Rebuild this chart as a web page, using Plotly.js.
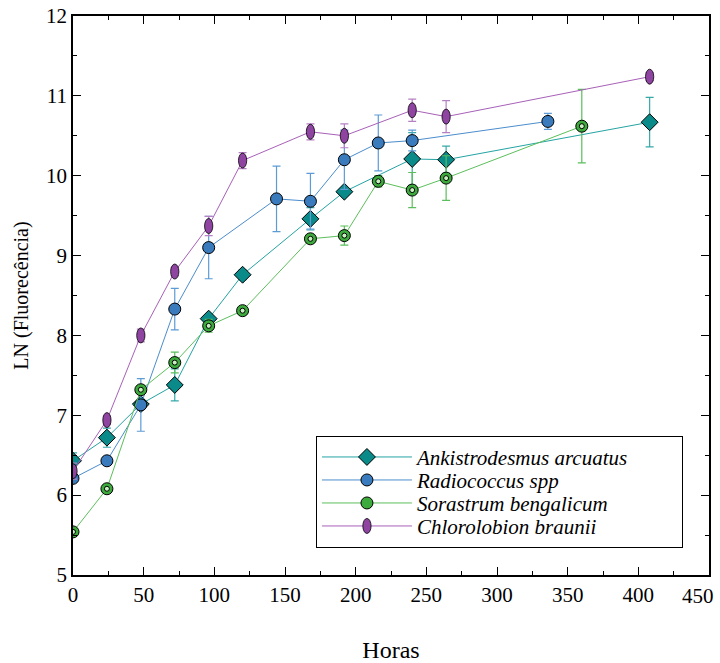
<!DOCTYPE html>
<html><head><meta charset="utf-8">
<script src="https://cdn.plot.ly/plotly-3.0.1.min.js"></script>
<style>body{margin:0;background:#fff}#chart{width:720px;height:663px}</style>
</head><body><div id="chart"></div>
<script>
const seriesNames = ["Ankistrodesmus arcuatus","Radiococcus spp","Sorastrum bengalicum","Chlorolobion braunii"];
const hoursA = [0,24,48,72,96,120,168,192,240,264,408];
const lnA    = [6.43,6.72,7.14,7.38,8.21,8.76,9.46,9.80,10.21,10.20,10.67];
const errA   = [0.10,0.12,0.05,0.20,0.05,0.06,0.14,0.03,0.33,0.17,0.31];
const hoursR = [0,24,48,72,96,144,168,192,216,240,336];
const lnR    = [6.21,6.43,7.13,8.33,9.10,9.71,9.68,10.20,10.41,10.44,10.68];
const errR   = [0.05,0.04,0.33,0.26,0.39,0.41,0.35,0.37,0.35,0.13,0.10];
const hoursS = [0,24,48,72,96,120,168,192,216,240,264,360];
const lnS    = [5.54,6.08,7.32,7.66,8.12,8.31,9.21,9.25,9.93,9.82,9.97,10.62];
const errS   = [0.05,0.03,0.05,0.13,0.08,0.03,0.05,0.12,0.07,0.22,0.28,0.46];
const hoursC = [0,24,48,72,96,120,168,192,240,264,408];
const lnC    = [6.30,6.94,8.00,8.80,9.37,10.19,10.55,10.50,10.82,10.74,11.24];
const errC   = [0.10,0.05,0.08,0.05,0.12,0.10,0.10,0.15,0.14,0.20,0.05];
const xTicks = [0,50,100,150,200,250,300,350,400,450];
const yTicks = [5,6,7,8,9,10,11,12];

const SERIF = 'Liberation Serif, Times New Roman, serif';
function tr(name,x,y,e,lineC,fillC,errC,sym,size,show){
  return {x:x,y:y,name:name,type:'scatter',mode:'lines+markers',showlegend:show,
    line:{color:lineC,width:1},
    marker:{symbol:sym,size:size,color:fillC,line:{color:'#000',width:1}},
    error_y:{type:'data',array:e,visible:true,color:errC,thickness:1.2,width:4}};
}
const traces = [
  tr(seriesNames[0],hoursA,lnA,errA,'#25A3A3','#0B8A8A','#35A8A8','diamond',13,true),
  tr(seriesNames[1],hoursR,lnR,errR,'#4B8DCC','#3A7BBD','#5C9BD6','circle',12,true),
  tr(seriesNames[2],hoursS,lnS,errS,'#5CBF5C','#3DAA3D','#5BBE5B','circle',12,true),
  {x:hoursS,y:lnS,type:'scatter',mode:'markers',showlegend:false,hoverinfo:'skip',
    marker:{symbol:'circle',size:5,color:'#C8F0C0',line:{color:'#000',width:1}}},
  tr(seriesNames[3],hoursC,lnC,errC,'#A860B8','#8E44A0','#B580C4','circle',15,true)
];
const lastX = xTicks[xTicks.length-1];
const tickFont = () => ({family:SERIF,size:21,color:'#000'});
const layout = {
  width:720,height:663,paper_bgcolor:'#fff',plot_bgcolor:'#fff',
  font:{family:SERIF,size:21,color:'#000'},
  margin:{l:73,r:11,t:16,b:88},
  xaxis:{range:[0,450],tickmode:'array',tickvals:xTicks,
    ticktext:xTicks.map(v=> v===lastX ? '' : String(v)),ticks:'inside',ticklen:8,tickwidth:1,tickcolor:'#000',
    showline:true,linecolor:'#000',linewidth:1.5,mirror:'ticks',showgrid:false,zeroline:false,
    tickfont:tickFont(),minor:{dtick:25,tick0:0,ticks:'inside',ticklen:4,tickcolor:'#000',showgrid:false},
    title:{text:'Horas',font:{family:SERIF,size:24,color:'#000'},standoff:36}},
  yaxis:{range:[5,12],tickmode:'array',tickvals:yTicks,ticktext:yTicks.map(String),ticks:'inside',ticklen:8,tickwidth:1,tickcolor:'#000',
    showline:true,linecolor:'#000',linewidth:1.5,mirror:'ticks',showgrid:false,zeroline:false,
    tickfont:tickFont(),minor:{dtick:0.5,tick0:5,ticks:'inside',ticklen:4,tickcolor:'#000',showgrid:false},
    title:{text:'LN (Fluorecência)',font:{family:SERIF,size:20,color:'#000'},standoff:12}},
  annotations:[{x:lastX,xref:'x',y:0,yref:'paper',text:String(lastX),showarrow:false,
    xanchor:'right',yanchor:'top',xshift:7,yshift:-7,font:tickFont()}],
  legend:{x:0.382,y:0.249,xanchor:'left',yanchor:'top',bgcolor:'#fff',bordercolor:'#000',borderwidth:1,
    font:{family:SERIF,size:21,color:'#000'},itemwidth:90,tracegroupgap:0},
  showlegend:true
};
Plotly.newPlot('chart',traces,layout,{displayModeBar:false}).then(()=>{
  document.querySelectorAll('.legendtext').forEach(t=>t.style.fontStyle='italic');
  const tr4 = document.querySelectorAll('.scatterlayer .trace')[4];
  if (tr4) tr4.querySelectorAll('.points path').forEach(p=>{
    p.setAttribute('transform',(p.getAttribute('transform')||'')+' scale(0.55,1)');
  });
  const leg = document.querySelectorAll('.legend .traces');
  if (leg[3]) leg[3].querySelectorAll('.legendpoints path.scatterpts').forEach(p=>{
    p.setAttribute('transform',(p.getAttribute('transform')||'')+' scale(0.55,1)');
  });
  if (leg.length) {
    const m = /translate\(\s*([-\d.]+)[ ,]+([-\d.]+)\s*\)/.exec(leg[0].getAttribute('transform')||'');
    if (m) {
      const x0 = parseFloat(m[1]), y0 = parseFloat(m[2]);
      leg.forEach((g,i)=> g.setAttribute('transform',`translate(${x0},${y0+23*i})`));
      const bg = document.querySelector('.legend rect.bg');
      if (bg) { bg.setAttribute('height', 2*y0 + 23*(leg.length-1)); bg.setAttribute('width', 366); }
    }
  }
});
</script></body></html>
